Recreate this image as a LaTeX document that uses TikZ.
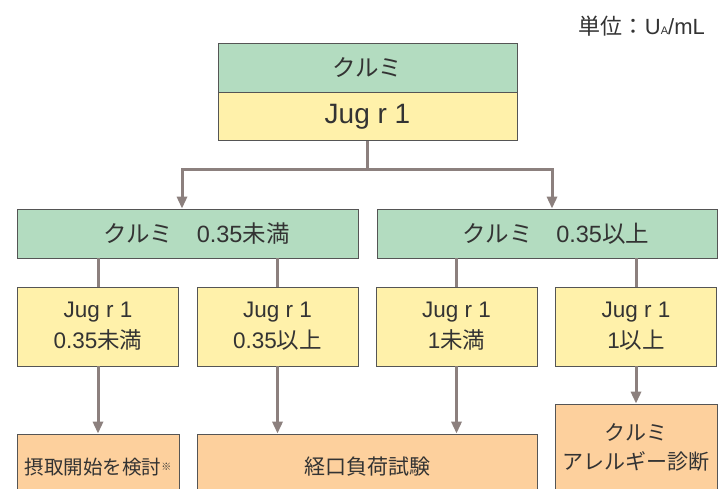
\documentclass[tikz,border=0pt]{standalone}
\usepackage{fontspec}
\setmainfont{Noto Sans CJK JP}
\newfontfamily\latinfont{Liberation Sans}
\newcommand\en[1]{{\latinfont #1}}
\usetikzlibrary{arrows.meta,positioning,calc}

\definecolor{boxline}{RGB}{85,85,85}
\definecolor{grpfill}{RGB}{179,220,192}
\definecolor{valfill}{RGB}{255,241,170}
\definecolor{endfill}{RGB}{253,208,157}
\definecolor{connline}{RGB}{140,128,126}
\definecolor{txt}{RGB}{51,51,51}

\begin{document}
\begin{tikzpicture}[x=1pt,y=-1pt,
    >={Triangle[length=12pt,width=10pt]},
    frame/.style={draw=boxline,line width=0.8pt,align=center,inner sep=0pt,text=txt,font=\fontsize{22.5}{31}\selectfont},
    grpbox/.style={frame,fill=grpfill,minimum height=49pt},
    valbox/.style={frame,fill=valfill},
    endbox/.style={frame,fill=endfill,font=\fontsize{21}{29}\selectfont},
    conn/.style={draw=connline,line width=3pt},
    connarrow/.style={conn,->},
]

% ---------- page frame ----------
\path[use as bounding box] (0,0) rectangle (727,489);
\clip (0,0) rectangle (727,489);

% ---------- unit ----------
\node[anchor=base east,inner sep=0pt,text=txt,font=\fontsize{22}{22}\selectfont] (unit) at (705,35)
  {単位：\en{U{\fontsize{11}{11}\selectfont A}/mL}};

% ---------- top box ----------
\node[grpbox,minimum width=299pt,font=\fontsize{23.5}{31}\selectfont] (walnut) at (367.5,67.5) {クルミ};
\node[valbox,minimum width=299pt,minimum height=48pt,anchor=north,font=\fontsize{28}{30}\selectfont] (jugr) at (walnut.south) {\en{Jug r 1}};

% ---------- level 2: walnut-specific IgE ----------
\tikzset{grpbox/.append style={font=\fontsize{23.5}{31}\selectfont}}
\node[grpbox,minimum width=341pt] (lowgrp) at (187.5,233.5) {\hspace*{18pt}クルミ　\en{0.35}未満};
\node[grpbox,minimum width=340pt] (highgrp) at (547,233.5) {\hspace*{18pt}クルミ　\en{0.35}以上};

% ---------- level 3: Jug r 1 ----------
\foreach \n/\x/\v/\w in {a/98/0.35/未満, b/277.5/0.35/以上, c/456.5/1/未満, d/636/1/以上}
  \node[valbox,minimum width=161pt,minimum height=79pt] (jug\n) at (\x,326.5) {\en{Jug r 1}\\\en{\v}\w};

% ---------- level 4: outcome ----------
\node[endbox,minimum width=162pt,minimum height=66pt,font=\fontsize{19.5}{29}\selectfont] (start) at (98,467)
  {摂取開始を検討\raisebox{4pt}{\fontsize{10}{10}\selectfont ※}};
\node[endbox,minimum width=340pt,minimum height=66pt] (ofc) at (367,467) {経口負荷試験};
\node[endbox,minimum width=162pt,minimum height=86pt] (diag) at (636,447) {クルミ\\アレルギー診断};

% ---------- connectors ----------
\coordinate (fork) at (367.5,169);
\draw[conn] (jugr.south) -- (fork);
\draw[connarrow] (fork) -| ([xshift=-5.5pt]lowgrp.north);
\draw[connarrow] (fork) -| ([xshift=5pt]highgrp.north);

\draw[conn] (juga.north |- lowgrp.south) -- (juga.north);
\draw[conn] (jugb.north |- lowgrp.south) -- (jugb.north);
\draw[conn] (jugc.north |- highgrp.south) -- (jugc.north);
\draw[conn] (jugd.north |- highgrp.south) -- (jugd.north);

\draw[connarrow] (juga.south) -- (start.north);
\draw[connarrow] (jugb.south) -- (jugb.south |- ofc.north);
\draw[connarrow] (jugc.south) -- (jugc.south |- ofc.north);
\draw[connarrow] (jugd.south) -- (diag.north);

\end{tikzpicture}
\end{document}
